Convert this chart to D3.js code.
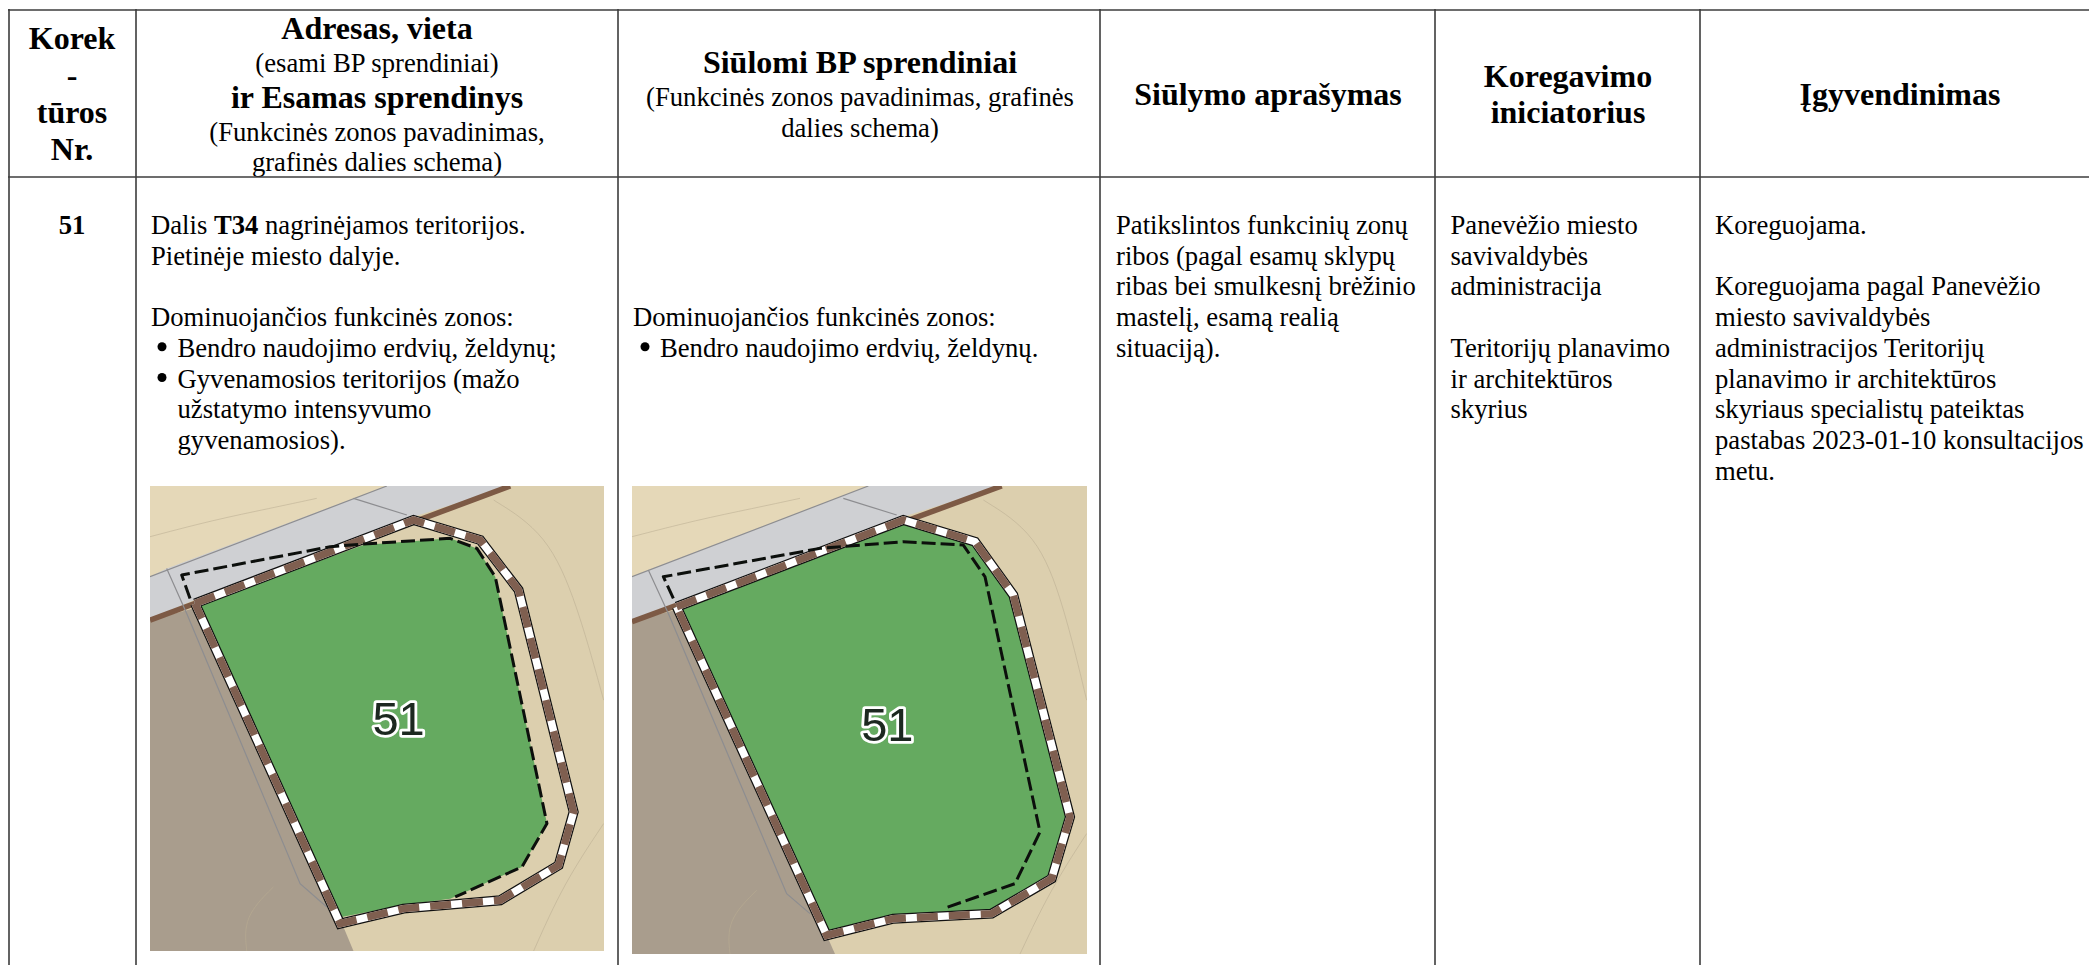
<!DOCTYPE html>
<html>
<head>
<meta charset="utf-8">
<script src="https://cdn.jsdelivr.net/npm/d3@7"></script>
<style>
  html, body { margin: 0; background: #fff; }
  svg { display: block; }
  text { font-family: "Liberation Serif", serif; fill: #000; }
</style>
</head>
<body>
<svg id="root" width="2089" height="965"></svg>
<script>
// table text
const headKorek = [['Korek', 1], ['-', 1], ['tūros', 1], ['Nr.', 1]];
const headAdresas = [['Adresas, vieta', 1], ['(esami BP sprendiniai)', 0], ['ir Esamas sprendinys', 1],
  ['(Funkcinės zonos pavadinimas,', 0], ['grafinės dalies schema)', 0]];
const headSiulomi = [['Siūlomi BP sprendiniai', 1], ['(Funkcinės zonos pavadinimas, grafinės', 0], ['dalies schema)', 0]];
const headAprasymas = [['Siūlymo aprašymas', 1]];
const headIniciatorius = [['Koregavimo', 1], ['iniciatorius', 1]];
const headIgyvendinimas = [['Įgyvendinimas', 1]];

const bodyAdresas = [
  [['Dalis ', 0], ['T34', 1], [' nagrinėjamos teritorijos.', 0]],
  [['Pietinėje miesto dalyje.', 0]],
  [],
  [['Dominuojančios funkcinės zonos:', 0]]
];
const bulletsAdresas = [['Bendro naudojimo erdvių, želdynų;', 1], ['Gyvenamosios teritorijos (mažo', 1],
  ['užstatymo intensyvumo', 0], ['gyvenamosios).', 0]];
const bodySiulomi = ['Dominuojančios funkcinės zonos:'];
const bulletsSiulomi = [['Bendro naudojimo erdvių, želdynų.', 1]];
const bodyAprasymas = ['Patikslintos funkcinių zonų', 'ribos (pagal esamų sklypų', 'ribas bei smulkesnį brėžinio',
  'mastelį, esamą realią', 'situaciją).'];
const bodyIniciatorius = ['Panevėžio miesto', 'savivaldybės', 'administracija', '',
  'Teritorijų planavimo', 'ir architektūros', 'skyrius'];
const bodyIgyvendinimas = ['Koreguojama.', '', 'Koreguojama pagal Panevėžio', 'miesto savivaldybės',
  'administracijos Teritorijų', 'planavimo ir architektūros', 'skyriaus specialistų pateiktas',
  'pastabas 2023-01-10 konsultacijos', 'metu.'];

const roadA = [[60,320],[110,295],[770,48],[1145,48],[850,140],[180,395],[60,450]];
const plotA = [[60,450],[190,415],[640,1370],[670,1442],[60,1442]];
const farA = [[60,48],[770,48],[110,295],[60,320]];
const brownA = [[60,450],[1140,48]];
const zoneA = [[205,405],[700,225],[960,205],[1040,235],[1095,320],[1250,1060],[1175,1190],[960,1285],[815,1305],[635,1340]];
const edgeA = [[195,400],[850,150],[1050,210],[1165,360],[1330,1025],[1285,1185],[1110,1290],[820,1315],[630,1360],[195,400]];
const dashA = [[180,385],[155,315],[600,230],[700,222],[960,205],[1040,235],[1095,320],[1250,1060],[1175,1190],[975,1280]];
const thinA = [[110,295],[170,430],[510,1240],[590,1310]];
const thinA2 = [[60,320],[770,48]];
const thinA3 = [[670,85],[830,135]];
const contoursA = [
  [[60,200],[250,150],[420,115],[560,85]],
  [[1090,90],[1250,190],[1340,400],[1420,690]],
  [[1420,1060],[1300,1240],[1210,1442]],
  [[350,1442],[340,1340],[430,1250]]
];

const roadB = [[36,320],[85,300],[745,48],[1145,48],[850,140],[160,405],[36,455]];
const plotB = [[36,455],[165,420],[620,1395],[645,1451],[36,1451]];
const farB = [[36,48],[745,48],[85,300],[36,320]];
const brownB = [[36,455],[1145,48]];
const zoneB = [[170,410],[850,150],[1065,215],[1180,375],[1350,1040],[1295,1225],[1115,1330],[820,1345],[620,1395]];
const edgeB = [[170,410],[850,150],[1065,215],[1180,375],[1350,1040],[1295,1225],[1115,1330],[820,1345],[620,1395],[170,410]];
const dashB = [[160,385],[130,320],[600,235],[850,215],[1030,225],[1095,320],[1260,1085],[1185,1240],[970,1315]];
const thinB = [[85,300],[145,430],[500,1270],[570,1330]];
const thinB2 = [[36,320],[745,48]];
const thinB3 = [[670,85],[830,135]];
const contoursB = [
  [[36,200],[230,150],[400,115],[540,85]],
  [[1090,90],[1250,190],[1330,400],[1400,690]],
  [[1400,1090],[1290,1260],[1200,1451]],
  [[330,1451],[320,1350],[410,1260]]
];

const colX = [9, 136, 618, 1100, 1435, 1700];
const headBottom = 177, topY = 10, H = 965, W = 2089;
const boldSize = 32, textSize = 26.67, bulletR = 4.5;

const svg = d3.select('#root');

const defs = svg.append('defs');
defs.append('filter').attr('id', 'soft').append('feGaussianBlur').attr('stdDev', 0.5);

// one line of text made of plain and bold runs
function put(parent, x, y, size, anchor, runs) {
  const t = parent.append('text')
    .attr('x', x).attr('y', y)
    .attr('font-size', size)
    .attr('text-anchor', anchor)
    .style('white-space', 'pre');
  t.selectAll('tspan').data(runs).join('tspan')
    .attr('font-weight', d => d[1] ? 700 : 400)
    .text(d => d[0]);
}

function bullet(parent, x, y) {
  parent.append('circle').attr('cx', x).attr('cy', y - 10).attr('r', bulletR).attr('fill', '#000');
}

// header
const head = svg.append('g');
function headCell(lines, cx, ys) {
  lines.forEach((l, i) => put(head, cx, ys[i], l[1] ? boldSize : textSize, 'middle', [l]));
}
headCell(headKorek, 72, [49, 86, 123, 160]);
headCell(headAdresas, 377, [39, 72, 108, 141, 171]);
headCell(headSiulomi, 860, [73, 106, 137]);
headCell(headAprasymas, 1268, [105]);
headCell(headIniciatorius, 1568, [87, 123]);
headCell(headIgyvendinimas, 1900, [105]);

// body
const body = svg.append('g');
const pitch = 30.7, firstY = 234;
const rowY = d3.scaleLinear().domain([0, 1]).range([firstY, firstY + pitch]);
put(body, 72, firstY, textSize, 'middle', [['51', 1]]);

bodyAdresas.forEach((runs, i) => { if (runs.length) put(body, 151, rowY(i), textSize, 'start', runs); });
bulletsAdresas.forEach((b, i) => {
  if (b[1]) bullet(body, 162, rowY(4 + i));
  put(body, 177.5, rowY(4 + i), textSize, 'start', [[b[0], 0]]);
});
bodySiulomi.forEach((s, i) => put(body, 633, rowY(3 + i), textSize, 'start', [[s, 0]]));
bulletsSiulomi.forEach((b, i) => {
  bullet(body, 645, rowY(4 + i));
  put(body, 660, rowY(4 + i), textSize, 'start', [[b[0], 0]]);
});
[[bodyAprasymas, 1116], [bodyIniciatorius, 1450.5], [bodyIgyvendinimas, 1715]].forEach(([lines, x]) => {
  lines.forEach((s, i) => { if (s) put(body, x, rowY(i), textSize, 'start', [[s, 0]]); });
});

// scheme picture
function drawMap(m) {
  const x = d3.scaleLinear().domain(m.dx).range(m.rx);
  const y = d3.scaleLinear().domain(m.dy).range(m.ry);
  const line = d3.line().x(d => x(d[0])).y(d => y(d[1]));
  const curve = d3.line().x(d => x(d[0])).y(d => y(d[1])).curve(d3.curveBasis);
  const clipId = 'clip' + m.id;
  defs.append('clipPath').attr('id', clipId).append('rect')
    .attr('x', m.rx[0]).attr('y', m.ry[0])
    .attr('width', m.rx[1] - m.rx[0]).attr('height', m.ry[1] - m.ry[0]);
  const g = svg.append('g').attr('clip-path', `url(#${clipId})`).append('g').attr('filter', 'url(#soft)');

  g.append('rect').attr('x', m.rx[0]).attr('y', m.ry[0])
    .attr('width', m.rx[1] - m.rx[0]).attr('height', m.ry[1] - m.ry[0]).attr('fill', '#dccfae');
  g.append('path').attr('d', line(m.far) + 'Z').attr('fill', '#e5d8b8');
  g.append('path').attr('d', line(m.road) + 'Z').attr('fill', '#cfd0d3');
  g.append('path').attr('d', line(m.plot) + 'Z').attr('fill', '#a99d8d');
  m.contours.forEach(c => {
    g.append('path').attr('d', curve(c)).attr('fill', 'none').attr('stroke', '#b9ad92')
      .attr('stroke-width', 1).attr('stroke-opacity', 0.55);
  });
  g.append('path').attr('d', line(m.brown)).attr('fill', 'none').attr('stroke', '#7d5a45').attr('stroke-width', 5.5);
  [m.thin, m.thin2, m.thin3].forEach(t => {
    g.append('path').attr('d', line(t)).attr('fill', 'none').attr('stroke', '#8d8d90').attr('stroke-width', 1.2);
  });
  g.append('path').attr('d', line(m.zone) + 'Z').attr('fill', '#65aa60');

  const edge = line(m.edge);
  g.append('path').attr('d', edge).attr('fill', 'none').attr('stroke', '#111').attr('stroke-width', 10);
  g.append('path').attr('d', edge).attr('fill', 'none').attr('stroke', '#fff').attr('stroke-width', 7.5);
  g.append('path').attr('d', edge).attr('fill', 'none').attr('stroke', '#7f5f50').attr('stroke-width', 7.5)
    .attr('stroke-dasharray', '21 11');

  g.append('path').attr('d', line(m.dash)).attr('fill', 'none').attr('stroke', '#0c0f0c').attr('stroke-width', 3)
    .attr('stroke-linejoin', 'round').attr('stroke-dasharray', '14 5');

  // halo drawn as the stroke of the label itself, so there is one text per label
  g.append('text')
    .attr('x', x(m.label[0])).attr('y', y(m.label[1]))
    .attr('text-anchor', 'middle')
    .attr('font-size', 47)
    .attr('stroke', '#fff').attr('stroke-width', 5.5).attr('stroke-linejoin', 'round')
    .attr('paint-order', 'stroke')
    .style('font-family', '"Liberation Sans", sans-serif')
    .style('fill', '#1c2820')
    .text('51');
}
drawMap({ id: 'A', dx: [60, 1421], rx: [150, 604], dy: [48, 1442], ry: [486, 951],
  road: roadA, plot: plotA, far: farA, brown: brownA, zone: zoneA, edge: edgeA, dash: dashA,
  thin: thinA, thin2: thinA2, thin3: thinA3, contours: contoursA, label: [805, 795] });
drawMap({ id: 'B', dx: [36, 1401], rx: [632, 1087], dy: [48, 1451], ry: [486, 954],
  road: roadB, plot: plotB, far: farB, brown: brownB, zone: zoneB, edge: edgeB, dash: dashB,
  thin: thinB, thin2: thinB2, thin3: thinB3, contours: contoursB, label: [802, 812] });

// table rules
const rules = svg.append('g').attr('stroke', '#3c3c3c').attr('stroke-width', 1.6);
rules.selectAll('line.v').data(colX).join('line').attr('class', 'v')
  .attr('x1', d => d).attr('x2', d => d).attr('y1', topY - 1).attr('y2', H);
rules.selectAll('line.h').data([topY, headBottom]).join('line').attr('class', 'h')
  .attr('x1', colX[0] - 1).attr('x2', W).attr('y1', d => d).attr('y2', d => d);
</script>
</body>
</html>
